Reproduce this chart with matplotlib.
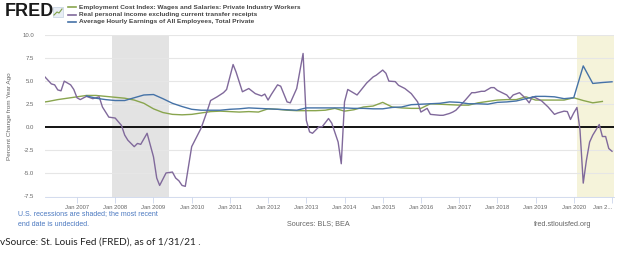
import matplotlib
matplotlib.use("Agg")
import matplotlib.pyplot as plt
import pandas as pd

# Employment Cost Index: Wages and Salaries, private industry (quarterly, % ch. yr ago)
eci_dates = ["2006-01", "2006-04", "2006-07", "2006-10", "2007-01", "2007-04", "2007-07", "2007-10",
             "2008-01", "2008-04", "2008-07", "2008-10", "2009-01", "2009-04", "2009-07", "2009-10",
             "2010-01", "2010-04", "2010-07", "2010-10", "2011-01", "2011-04", "2011-07", "2011-10",
             "2012-01", "2012-04", "2012-07", "2012-10", "2013-01", "2013-04", "2013-07", "2013-10",
             "2014-01", "2014-04", "2014-07", "2014-10", "2015-01", "2015-04", "2015-07", "2015-10",
             "2016-01", "2016-04", "2016-07", "2016-10", "2017-01", "2017-04", "2017-07", "2017-10",
             "2018-01", "2018-04", "2018-07", "2018-10", "2019-01", "2019-04", "2019-07", "2019-10",
             "2020-01", "2020-04", "2020-07", "2020-10"]
eci_values = [2.65, 2.8, 3.0, 3.15, 3.3, 3.45, 3.45, 3.35,
              3.25, 3.15, 2.95, 2.6, 2.0, 1.6, 1.4, 1.35,
              1.4, 1.55, 1.7, 1.75, 1.7, 1.65, 1.7, 1.65,
              2.0, 1.95, 1.85, 1.8, 1.8, 1.8, 1.85, 2.05,
              1.75, 1.9, 2.2, 2.3, 2.7, 2.2, 2.1, 2.05,
              2.05, 2.55, 2.5, 2.45, 2.4, 2.4, 2.65, 2.8,
              2.95, 3.0, 3.0, 3.3, 2.95, 2.95, 2.95, 2.95,
              3.2, 2.9, 2.65, 2.8]

# Real personal income excluding current transfer receipts (% ch. yr ago)
rpi_dates = ["2006-03", "2006-05", "2006-06", "2006-07", "2006-08", "2006-09", "2006-11", "2006-12",
             "2007-01", "2007-02", "2007-04", "2007-06", "2007-08", "2007-09", "2007-11", "2008-01",
             "2008-03", "2008-04", "2008-05", "2008-07", "2008-08", "2008-09", "2008-11", "2009-01",
             "2009-02", "2009-03", "2009-05", "2009-07", "2009-08", "2009-09", "2009-10", "2009-11",
             "2010-01", "2010-04", "2010-06", "2010-07", "2010-09", "2010-11", "2010-12", "2011-01",
             "2011-02", "2011-03", "2011-05", "2011-07", "2011-09", "2011-11", "2011-12", "2012-01",
             "2012-02", "2012-04", "2012-05", "2012-07", "2012-08", "2012-10", "2012-12", "2013-01",
             "2013-02", "2013-03", "2013-05", "2013-06", "2013-08", "2013-09", "2013-11", "2013-12",
             "2014-01", "2014-02", "2014-05", "2014-08", "2014-10", "2014-11", "2015-01", "2015-02",
             "2015-03", "2015-05", "2015-06", "2015-08", "2015-10", "2015-12", "2016-01", "2016-03",
             "2016-04", "2016-07", "2016-08", "2016-10", "2016-11", "2016-12", "2017-03", "2017-05",
             "2017-06", "2017-08", "2017-09", "2017-11", "2017-12", "2018-01", "2018-04", "2018-05",
             "2018-06", "2018-08", "2018-10", "2018-11", "2018-12", "2019-01", "2019-03", "2019-05",
             "2019-07", "2019-08", "2019-10", "2019-11", "2019-12", "2020-01", "2020-02", "2020-03",
             "2020-04", "2020-05", "2020-06", "2020-07", "2020-09", "2020-10", "2020-11", "2020-12",
             "2021-01"]
rpi_values = [5.45, 4.7, 4.6, 4.05, 3.95, 5.0, 4.6, 4.1,
              3.2, 3.0, 3.35, 3.1, 3.3, 2.2, 1.1, 1.0,
              0.2, -0.85, -1.4, -2.1, -1.75, -1.85, -0.65, -3.2,
              -5.5, -6.3, -4.95, -4.85, -5.5, -5.8, -6.3, -6.4,
              -2.1, -0.1, 1.85, 2.9, 3.3, 3.75, 4.1, 5.45,
              6.8, 6.0, 3.85, 4.2, 3.65, 3.4, 3.6, 2.95,
              3.55, 4.6, 4.45, 2.75, 2.65, 4.2, 8.0, 0.75,
              -0.5, -0.65, 0.05, 0.05, 0.95, 0.45, -1.6, -3.95,
              2.75, 4.1, 3.5, 4.8, 5.45, 5.65, 6.2, 5.85,
              5.0, 4.95, 4.55, 4.2, 3.65, 2.75, 1.65, 2.05,
              1.4, 1.3, 1.3, 1.5, 1.65, 1.85, 2.95, 3.75,
              3.75, 3.9, 3.9, 4.3, 4.3, 4.0, 3.5, 3.1,
              3.5, 3.75, 3.1, 2.65, 3.3, 3.2, 2.85, 2.2,
              1.4, 1.55, 1.75, 1.7, 0.85, 1.55, 2.15, -0.3,
              -6.05, -3.6, -1.6, -0.85, 0.3, -1.0, -1.0, -2.3,
              -2.6]

# Average Hourly Earnings of All Employees, Total Private (quarterly, % ch. yr ago)
ahe_dates = ["2007-04", "2007-07", "2007-10", "2008-01", "2008-04", "2008-07", "2008-10", "2009-01",
             "2009-04", "2009-07", "2009-10", "2010-01", "2010-04", "2010-07", "2010-10", "2011-01",
             "2011-04", "2011-07", "2011-10", "2012-01", "2012-04", "2012-07", "2012-10", "2013-01",
             "2013-04", "2013-07", "2013-10", "2014-01", "2014-04", "2014-07", "2014-10", "2015-01",
             "2015-04", "2015-07", "2015-10", "2016-01", "2016-04", "2016-07", "2016-10", "2017-01",
             "2017-04", "2017-07", "2017-10", "2018-01", "2018-04", "2018-07", "2018-10", "2019-01",
             "2019-04", "2019-07", "2019-10", "2020-01", "2020-04", "2020-07", "2020-10", "2021-01"]
ahe_values = [3.4, 3.15, 3.0, 2.9, 2.9, 3.2, 3.5, 3.55,
              3.1, 2.6, 2.25, 1.95, 1.85, 1.85, 1.85, 1.95,
              2.0, 2.1, 2.05, 2.0, 1.95, 1.9, 1.85, 2.1,
              2.1, 2.1, 2.1, 2.1, 2.05, 2.05, 2.0, 2.0,
              2.15, 2.2, 2.45, 2.5, 2.55, 2.6, 2.75, 2.7,
              2.55, 2.55, 2.5, 2.7, 2.75, 2.85, 3.1, 3.35,
              3.35, 3.3, 3.1, 3.2, 6.65, 4.75, 4.85, 4.93]

recessions = [("2007-12", "2009-06"), ("2020-02", "2021-02")]
series_names = ["Employment Cost Index: Wages and Salaries: Private Industry Workers",
                "Real personal income excluding current transfer receipts",
                "Average Hourly Earnings of All Employees, Total Private"]
colors = ["#89A54E", "#80699B", "#4572A7"]
y_ticks = [-7.5, -5.0, -2.5, 0.0, 2.5, 5.0, 7.5, 10.0]
x_years = list(range(2007, 2022))

plt.rcParams["font.family"] = ["Liberation Sans", "DejaVu Sans"]

fig = plt.figure(figsize=(6.17, 2.63), dpi=100)
ax = fig.add_axes([45 / 617, 1 - 196.5 / 263, 569 / 617, 161.5 / 263])

# recession shading
ax.axvspan(pd.Timestamp(recessions[0][0]), pd.Timestamp(recessions[0][1]), color="#e3e3e3", lw=0, zorder=0)
ax.axvspan(pd.Timestamp(recessions[1][0]), pd.Timestamp(recessions[1][1]), color="#f5f3da", lw=0, zorder=0)

for yv in y_ticks:
    if yv != 0:
        ax.axhline(yv, color="#e6e6e6", lw=0.8, zorder=1)
ax.axhline(0, color="black", lw=1.3, zorder=2)

ax.plot(pd.to_datetime(eci_dates), eci_values, color=colors[0], lw=1.0, zorder=3)
ax.plot(pd.to_datetime(rpi_dates), rpi_values, color=colors[1], lw=1.0, zorder=4)
ax.plot(pd.to_datetime(ahe_dates), ahe_values, color=colors[2], lw=1.0, zorder=5)

ax.set_xlim(pd.Timestamp("2006-03-01"), pd.Timestamp("2021-01-20"))
ax.set_ylim(-7.5, 10)
ax.set_yticks(y_ticks)
ax.set_yticklabels([f"{v:.1f}" for v in y_ticks], fontsize=4.3, color="#666666")
ax.set_xticks([pd.Timestamp(f"{yr}-01-01") for yr in x_years])
xlabels = [f"Jan {yr}" for yr in x_years]
xlabels[-1] = "Jan 2..."
ax.set_xticklabels(xlabels, fontsize=4.2, color="#666666")
ax.get_xticklabels()[-1].set_horizontalalignment("right")
ax.tick_params(axis="y", length=0, pad=8)
ax.tick_params(axis="x", length=4, width=0.6, color="#ccd6eb", pad=2)
for s in ["top", "right", "left"]:
    ax.spines[s].set_visible(False)
ax.spines["bottom"].set_color("#ccd6eb")
ax.spines["bottom"].set_linewidth(0.6)
ax.set_ylabel("Percent Change from Year Ago", fontsize=4.6, color="#666666", labelpad=7)

# header: logo and legend
fig.text(5 / 617, 1 - 12 / 263, "FRED", fontsize=13, fontweight="bold", color="#1a1a1a", va="center")
fig.patches.append(plt.Rectangle((53 / 617, 1 - 17 / 263), 10 / 617, 10 / 263, transform=fig.transFigure,
                                 facecolor="#e8eef5", edgecolor="#b8c8dc", lw=0.4))
fig.lines.append(plt.Line2D([54 / 617, 57 / 617, 59 / 617, 62 / 617],
                            [1 - 15 / 263, 1 - 12 / 263, 1 - 13 / 263, 1 - 9 / 263],
                            transform=fig.transFigure, color="#7fa046", lw=0.8))
for i, name in enumerate(series_names):
    yy = 1 - (7 + 7.5 * i) / 263
    fig.lines.append(plt.Line2D([68 / 617, 76 / 617], [yy, yy], transform=fig.transFigure,
                                color=colors[i], lw=1.2))
    fig.text(79 / 617, yy, name, fontsize=4.65, fontweight="bold", color="#444444", va="center")

# footer
fig.text(18 / 617, 1 - 214 / 263, "U.S. recessions are shaded; the most recent", fontsize=5.0,
         color="#4a78c0", va="center")
fig.text(18 / 617, 1 - 224 / 263, "end date is undecided.", fontsize=5.0, color="#4a78c0", va="center")
fig.text(318 / 617, 1 - 224 / 263, "Sources: BLS; BEA", fontsize=5.2, color="#666666", va="center", ha="center")
fig.text(591 / 617, 1 - 224 / 263, "fred.stlouisfed.org", fontsize=5.2, color="#666666", va="center", ha="right")
fig.text(0, 1 - 242 / 263, "vSource: St. Louis Fed (FRED), as of 1/31/21 .", fontsize=7.2,
         color="#222222", va="center", family=["Lato", "DejaVu Sans"])

fig.savefig("out.png", dpi=100, facecolor="white")
